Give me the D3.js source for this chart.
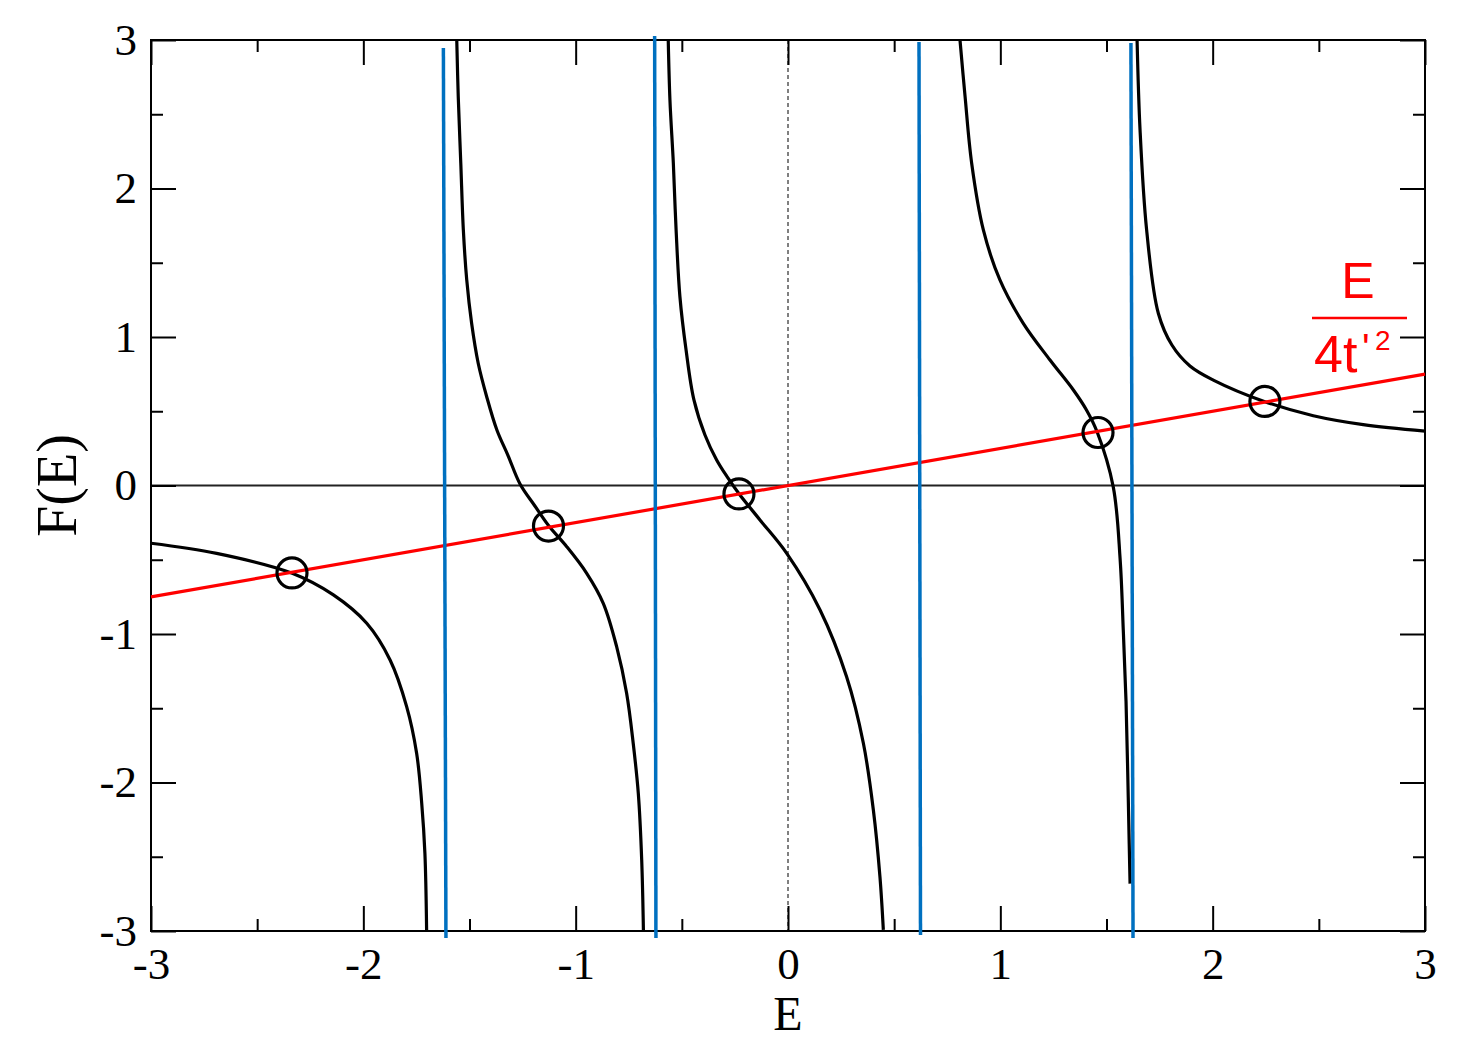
<!DOCTYPE html>
<html>
<head>
<meta charset="utf-8">
<script src="https://cdn.jsdelivr.net/npm/d3@7/dist/d3.min.js"></script>
<style>
body { margin: 0; background: #fff; }
</style>
</head>
<body>
<div id="graph"></div>
<script>
WIDTH = 1479;
HEIGHT = 1054;

// black curve, one array per branch: [E, F(E)]
var branch1 = [[-3, -0.389], [-2.691, -0.457], [-2.335, -0.591], [-2.141, -0.737], [-1.984, -0.928],
	[-1.874, -1.175], [-1.796, -1.489], [-1.749, -1.803], [-1.725, -2.140], [-1.710, -2.477], [-1.702, -2.993]];
var branch2 = [[-1.560, 3.0], [-1.553, 2.618], [-1.541, 2.170], [-1.529, 1.721], [-1.513, 1.384],
	[-1.490, 1.092], [-1.459, 0.823], [-1.419, 0.598], [-1.371, 0.374], [-1.318, 0.200], [-1.262, 0.010],
	[-1.192, -0.138], [-1.126, -0.273], [-1.042, -0.412], [-0.948, -0.591], [-0.870, -0.793],
	[-0.807, -1.085], [-0.760, -1.399], [-0.729, -1.736], [-0.705, -2.073], [-0.689, -2.522], [-0.681, -2.993]];
var branch3 = [[-0.564, 3.0], [-0.556, 2.596], [-0.540, 2.170], [-0.527, 1.721], [-0.509, 1.271],
	[-0.480, 0.912], [-0.443, 0.576], [-0.391, 0.340], [-0.336, 0.172], [-0.283, 0.051], [-0.229, -0.059],
	[-0.132, -0.232], [-0.006, -0.457], [0.151, -0.838], [0.276, -1.288], [0.355, -1.736],
	[0.402, -2.185], [0.433, -2.634], [0.449, -2.993]];
var branch4 = [[0.810, 3.0], [0.834, 2.618], [0.865, 2.170], [0.920, 1.721], [0.998, 1.384],
	[1.108, 1.092], [1.234, 0.845], [1.344, 0.643], [1.405, 0.510], [1.456, 0.360], [1.532, -0.011],
	[1.564, -0.492], [1.579, -0.973], [1.592, -1.454], [1.600, -1.935], [1.607, -2.416], [1.611, -2.681]];
var branch5 = [[1.644, 3.0], [1.658, 2.394], [1.689, 1.721], [1.744, 1.160], [1.808, 0.946],
	[1.893, 0.805], [2.003, 0.710], [2.243, 0.566], [2.474, 0.470], [2.709, 0.410], [3.0, 0.366]];

// straight line E/4t'^2
var redLine = [[-3, -0.75], [3, 0.75]];

// crossing points
var crossE = [-2.336, -1.128, -0.231, 1.460, 2.246];
var crossF = [-0.589, -0.273, -0.057, 0.357, 0.566];

// blue vertical markers (top and bottom ends)
var blueTopE = [-1.623, -0.628, 0.617, 1.615];
var blueBotE = [-1.611, -0.622, 0.624, 1.625];
var blueTopF = [2.946, 3.027, 2.987, 2.98];
var blueBotF = [-3.047, -3.047, -3.027, -3.047];

var xTicks = [-3, -2, -1, 0, 1, 2, 3];
var yTicks = [-3, -2, -1, 0, 1, 2, 3];
var minorTicks = [-2.5, -1.5, -0.5, 0.5, 1.5, 2.5];

var L = 151, R = 1425, T = 40, B = 931;

var svg = d3.select("#graph").append("svg:svg").attr("width", WIDTH).attr("height", HEIGHT)
	.style("background", "#fff");

var x = d3.scaleLinear().domain([-3, 3]).range([L, R]);
var y = d3.scaleLinear().domain([-3, 3]).range([B, T]);

// zero lines
svg.append("line")
	.attr("x1", x(-3)).attr("x2", x(3)).attr("y1", y(0)).attr("y2", y(0))
	.attr("stroke", "#222").attr("stroke-width", 2);
svg.append("line")
	.attr("x1", x(0)).attr("x2", x(0)).attr("y1", y(3)).attr("y2", y(-3))
	.attr("stroke", "#000").attr("stroke-width", 1).attr("stroke-dasharray", "4,3");

// axes with inward ticks on all four sides
function styleAxis(g) {
	g.select(".domain").remove();
	g.selectAll(".tick line").attr("stroke", "#000").attr("stroke-width", 2);
	g.selectAll("text").attr("font-family", "Liberation Serif, Times New Roman, serif")
		.attr("font-size", 45).attr("fill", "#000");
}
var fmt = function(d) { return String(d); };

svg.append("g").attr("transform", "translate(0," + B + ")")
	.call(d3.axisBottom(x).tickValues(xTicks).tickSize(-25).tickPadding(16).tickFormat(fmt)).call(styleAxis);
svg.append("g").attr("transform", "translate(0," + B + ")")
	.call(d3.axisBottom(x).tickValues(minorTicks).tickSize(-12).tickFormat("")).call(styleAxis);
svg.append("g").attr("transform", "translate(0," + T + ")")
	.call(d3.axisTop(x).tickValues(xTicks).tickSize(-25).tickFormat("")).call(styleAxis);
svg.append("g").attr("transform", "translate(0," + T + ")")
	.call(d3.axisTop(x).tickValues(minorTicks).tickSize(-12).tickFormat("")).call(styleAxis);
svg.append("g").attr("transform", "translate(" + L + ",0)")
	.call(d3.axisLeft(y).tickValues(yTicks).tickSize(-25).tickPadding(14).tickFormat(fmt)).call(styleAxis);
svg.append("g").attr("transform", "translate(" + L + ",0)")
	.call(d3.axisLeft(y).tickValues(minorTicks).tickSize(-12).tickFormat("")).call(styleAxis);
svg.append("g").attr("transform", "translate(" + R + ",0)")
	.call(d3.axisRight(y).tickValues(yTicks).tickSize(-25).tickFormat("")).call(styleAxis);
svg.append("g").attr("transform", "translate(" + R + ",0)")
	.call(d3.axisRight(y).tickValues(minorTicks).tickSize(-12).tickFormat("")).call(styleAxis);

// frame
svg.append("rect").attr("x", L).attr("y", T).attr("width", R - L).attr("height", B - T)
	.attr("fill", "none").attr("stroke", "#000").attr("stroke-width", 2);

// axis titles
svg.append("text").attr("x", x(0)).attr("y", 1030).attr("text-anchor", "middle")
	.attr("font-family", "Liberation Serif, Times New Roman, serif").attr("font-size", 48)
	.text("E");
svg.append("text").attr("transform", "translate(76," + y(0) + ") rotate(-90)").attr("text-anchor", "middle")
	.attr("font-family", "Liberation Serif, Times New Roman, serif").attr("font-size", 56)
	.text("F(E)");

// black curve
var line = d3.line().x(function(d) { return x(d[0]); }).y(function(d) { return y(d[1]); })
	.curve(d3.curveCatmullRom.alpha(0.5));
var curveg = svg.append("g");
curveg.selectAll("path").data([branch1, branch2, branch3, branch4, branch5]).enter().append("path")
	.attr("d", line).attr("fill", "none").attr("stroke", "#000").attr("stroke-width", 3.2)
	.attr("stroke-linejoin", "round");

// red line
svg.append("path").datum(redLine).attr("d", d3.line().x(function(d) { return x(d[0]); }).y(function(d) { return y(d[1]); }))
	.attr("stroke", "#ff0000").attr("stroke-width", 3.2).attr("fill", "none");

// blue markers
var blueg = svg.append("g");
blueg.selectAll("line").data(blueTopE).enter().append("line")
	.attr("x1", function(d) { return x(d); })
	.attr("y1", function(d, i) { return y(blueTopF[i]); })
	.attr("x2", function(d, i) { return x(blueBotE[i]); })
	.attr("y2", function(d, i) { return y(blueBotF[i]); })
	.attr("stroke", "#0070c0").attr("stroke-width", 3.5);

// circles at crossings
var dotg = svg.append("g");
dotg.selectAll("circle").data(crossE).enter().append("circle")
	.attr("cx", function(d) { return x(d); })
	.attr("cy", function(d, i) { return y(crossF[i]); })
	.attr("r", 15).attr("fill", "none").attr("stroke", "#000").attr("stroke-width", 3.2);

// red fraction label
var lab = svg.append("g").attr("fill", "#ff0000").attr("font-family", "Liberation Sans, Arial, sans-serif");
lab.append("text").attr("x", 1358).attr("y", 298).attr("text-anchor", "middle").attr("font-size", 50).text("E");
lab.append("line").attr("x1", 1312).attr("x2", 1407).attr("y1", 318).attr("y2", 318)
	.attr("stroke", "#ff0000").attr("stroke-width", 2.5);
lab.append("text").attr("x", 1314).attr("y", 372).attr("font-size", 52).text("4t");
lab.append("text").attr("x", 1362).attr("y", 362).attr("font-size", 40).text("'");
lab.append("text").attr("x", 1375).attr("y", 350).attr("font-size", 28).text("2");
</script>
</body>
</html>
